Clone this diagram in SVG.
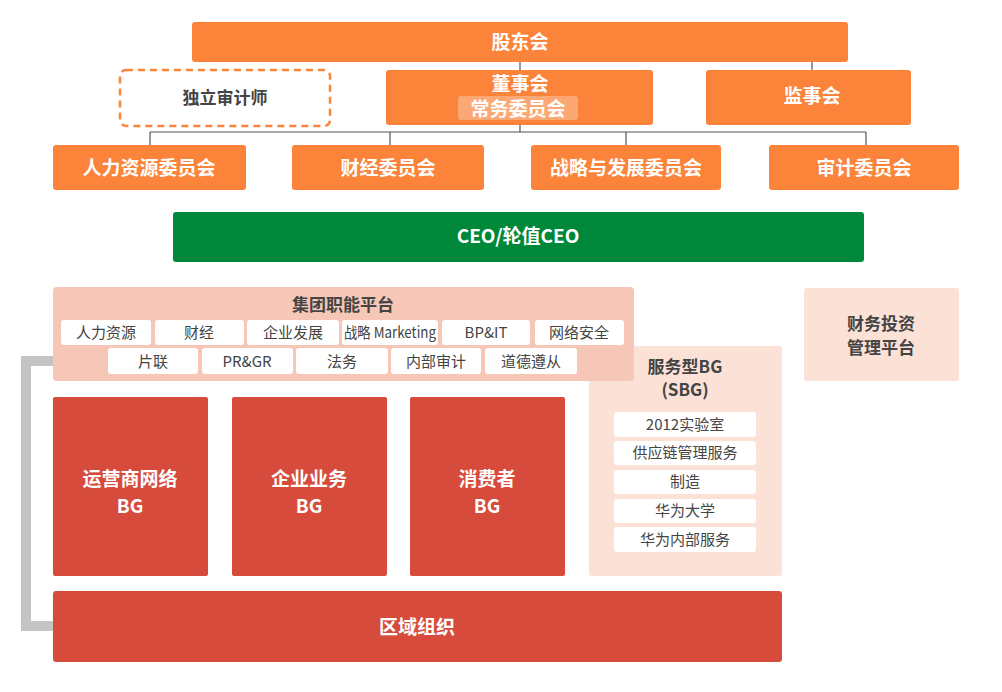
<svg xmlns="http://www.w3.org/2000/svg" width="1002" height="692" viewBox="0 0 1002 692">
<style>
.o{fill:#fb833a}
.r{fill:#d64b3b}
.w{fill:#fff;font-family:"Noto Sans CJK SC",sans-serif;font-weight:bold;font-size:19px;text-anchor:middle}
.g{fill:#444;font-family:"Noto Sans CJK SC",sans-serif;font-weight:bold;font-size:17px;text-anchor:middle}
.it{fill:#fff}
.t{fill:#444;font-family:"Noto Sans CJK SC",sans-serif;font-size:15px;text-anchor:middle}
.c{stroke:#555;stroke-width:1.2;fill:none}
</style>
<rect width="1002" height="692" fill="#fff"/>
<g id="connectors">
<path class="c" d="M520 62V70M812 62V70M520 125V132M150 132H866M150 132V145M390 132V145M626 132V145M866 132V145"/>
<path d="M108 361H26V626H53" stroke="#c3c4c6" stroke-width="10" fill="none"/>
</g>
<g id="gudong"><rect class="o" x="192" y="22" width="656" height="40" rx="3"/><text class="w" x="520" y="49">股东会</text></g>
<g id="auditor"><rect x="120" y="70" width="210" height="56" rx="6" fill="#fff" stroke="#fb833a" stroke-width="2.5" stroke-dasharray="7 5"/><text class="g" x="225" y="104">独立审计师</text></g>
<g id="board"><rect class="o" x="386" y="70" width="267" height="55" rx="3"/><text class="w" x="520" y="91">董事会</text><rect x="458" y="96" width="120" height="24" rx="3" fill="#fff" fill-opacity="0.3"/><text class="w" x="518" y="116" font-size="18">常务委员会</text></g>
<g id="supervisors"><rect class="o" x="706" y="70" width="205" height="55" rx="3"/><text class="w" x="812" y="103">监事会</text></g>
<g id="c1"><rect class="o" x="53" y="145" width="193" height="45" rx="3"/><text class="w" x="149" y="175">人力资源委员会</text></g>
<g id="c2"><rect class="o" x="292" y="145" width="192" height="45" rx="3"/><text class="w" x="388" y="175">财经委员会</text></g>
<g id="c3"><rect class="o" x="531" y="145" width="190" height="45" rx="3"/><text class="w" x="626" y="175">战略与发展委员会</text></g>
<g id="c4"><rect class="o" x="769" y="145" width="190" height="45" rx="3"/><text class="w" x="864" y="175">审计委员会</text></g>
<g id="ceo"><rect x="173" y="212" width="691" height="50" rx="3" fill="#00883a"/><text class="w" x="518" y="243">CEO/轮值CEO</text></g>
<g id="sbg"><rect x="589" y="346" width="193" height="230" rx="3" fill="#fce1d7"/><text class="g" x="685" y="373" font-size="16">服务型BG</text><text class="g" x="685" y="396" font-size="16">(SBG)</text>
<rect class="it" x="614" y="412" width="142" height="25" rx="3"/><text class="t" x="685" y="430">2012实验室</text>
<rect class="it" x="614" y="441" width="142" height="24" rx="3"/><text class="t" x="685" y="458">供应链管理服务</text>
<rect class="it" x="614" y="470" width="142" height="24" rx="3"/><text class="t" x="685" y="487">制造</text>
<rect class="it" x="614" y="499" width="142" height="24" rx="3"/><text class="t" x="685" y="516">华为大学</text>
<rect class="it" x="614" y="527" width="142" height="25" rx="3"/><text class="t" x="685" y="545">华为内部服务</text>
</g>
<g id="platform"><rect x="53" y="287" width="581" height="94" rx="4" fill="#f6c7b6"/><text class="g" x="343" y="311" font-size="16">集团职能平台</text>
<rect class="it" x="61" y="320" width="90" height="25" rx="3"/><text class="t" x="106" y="338">人力资源</text>
<rect class="it" x="155" y="320" width="89" height="25" rx="3"/><text class="t" x="199" y="338">财经</text>
<rect class="it" x="247" y="320" width="92" height="25" rx="3"/><text class="t" x="293" y="338">企业发展</text>
<rect class="it" x="342" y="320" width="96" height="25" rx="3"/><text class="t" x="390" y="338" font-size="14" textLength="92" lengthAdjust="spacingAndGlyphs">战略 Marketing</text>
<rect class="it" x="442" y="320" width="88" height="25" rx="3"/><text class="t" x="486" y="338">BP&amp;IT</text>
<rect class="it" x="535" y="320" width="89" height="25" rx="3"/><text class="t" x="579" y="338">网络安全</text>
<rect class="it" x="108" y="348" width="90" height="26" rx="3"/><text class="t" x="153" y="367">片联</text>
<rect class="it" x="202" y="348" width="91" height="26" rx="3"/><text class="t" x="247" y="367">PR&amp;GR</text>
<rect class="it" x="296" y="348" width="92" height="26" rx="3"/><text class="t" x="342" y="367">法务</text>
<rect class="it" x="391" y="348" width="90" height="26" rx="3"/><text class="t" x="436" y="367">内部审计</text>
<rect class="it" x="485" y="348" width="92" height="26" rx="3"/><text class="t" x="531" y="367">道德遵从</text>
</g>
<g id="finance"><rect x="804" y="288" width="155" height="93" rx="3" fill="#fce1d7"/><text class="g" x="881" y="330">财务投资</text><text class="g" x="881" y="354">管理平台</text></g>
<g id="bg1"><rect class="r" x="53" y="397" width="155" height="179" rx="2"/><text class="w" x="130" y="486">运营商网络</text><text class="w" x="130" y="513">BG</text></g>
<g id="bg2"><rect class="r" x="232" y="397" width="155" height="179" rx="2"/><text class="w" x="309" y="486">企业业务</text><text class="w" x="309" y="513">BG</text></g>
<g id="bg3"><rect class="r" x="410" y="397" width="155" height="179" rx="2"/><text class="w" x="487" y="486">消费者</text><text class="w" x="487" y="513">BG</text></g>
<g id="region"><rect class="r" x="53" y="591" width="729" height="71" rx="3"/><text class="w" x="417" y="634">区域组织</text></g>
</svg>
